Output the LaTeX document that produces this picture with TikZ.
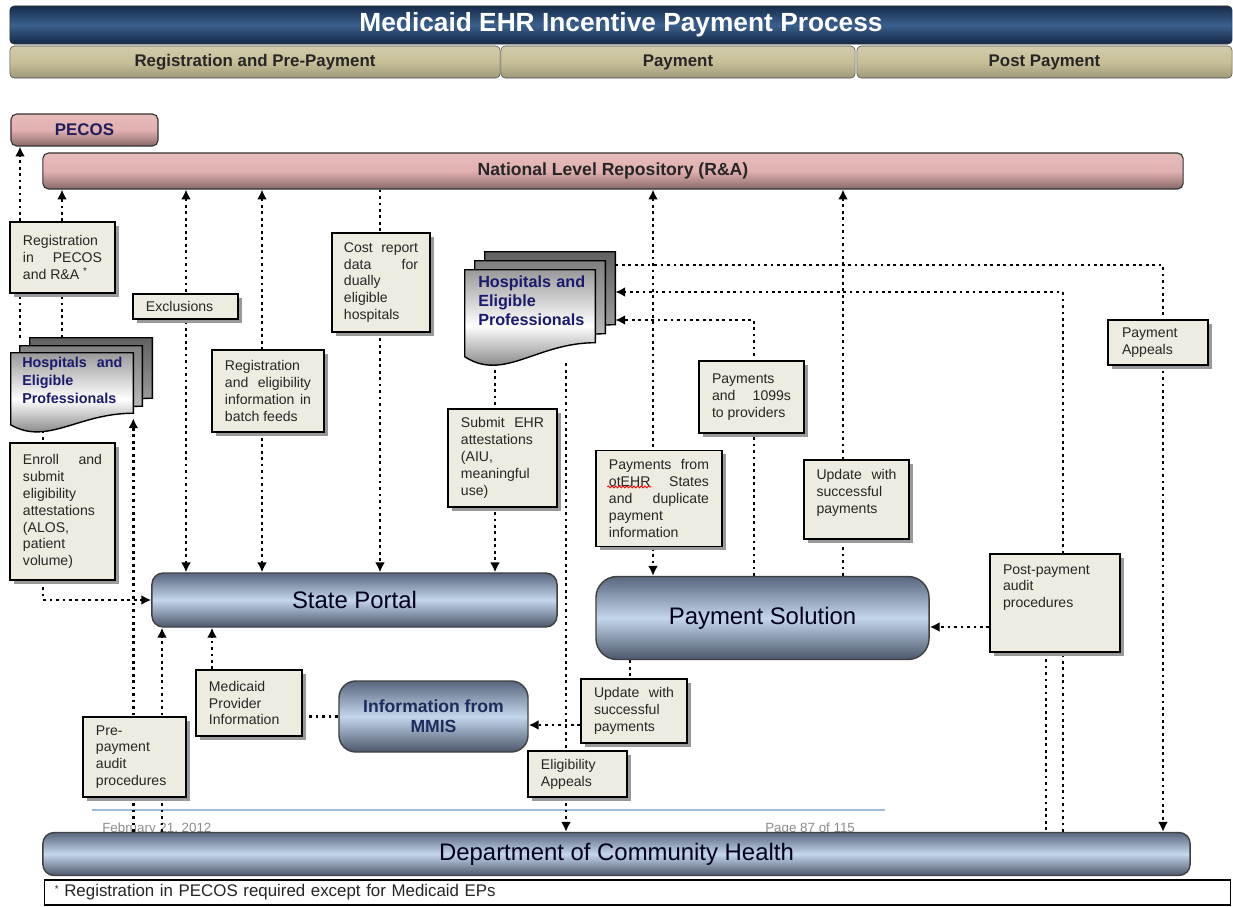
\documentclass[tikz,border=0pt]{standalone}
\usepackage{fontspec}
\setmainfont{Liberation Sans}
\usepackage{xcolor}
\usepackage{tikz}
\usetikzlibrary{arrows.meta, calc, shadows, positioning, decorations.pathmorphing}
\pgfdeclarelayer{background}
\pgfdeclarelayer{pages}
\pgfsetlayers{background,pages,main}
\definecolor{titletop}{RGB}{22,44,75}
\definecolor{titlemid}{RGB}{58,96,142}
\definecolor{phasetan}{RGB}{198,191,152}
\definecolor{nlrpink}{RGB}{226,176,176}
\definecolor{notefill}{RGB}{238,235,224}
\definecolor{boxdark}{RGB}{88,102,126}
\definecolor{boxlight}{RGB}{196,214,236}
\definecolor{hospnavy}{RGB}{26,26,110}
\definecolor{footline}{RGB}{160,188,220}
\newcommand{\notefont}{\fontsize{10}{12}\selectfont}
% page with a wavy lower edge, drawn round an empty node
\newcommand{\docpage}[2]{%
  \begin{pgfonlayer}{pages}
    \draw[#2] let \p1=(#1.north west), \p2=(#1.south east),
      \n1={\x2-\x1}, \n2={\y1-\y2} in
      (\x1,\y1) -- (\x2,\y1) -- (\x2,{\y2+0.22*\n2})
      .. controls ({\x2-0.45*\n1},{\y2+0.22*\n2}) and ({\x1+0.3*\n1},{\y2-0.2*\n2})
      .. (\x1,{\y2+0.07*\n2}) -- cycle;
  \end{pgfonlayer}}
\tikzset{
  >={Latex[length=7pt,width=7pt]},
  % connectors
  flow/.style={line width=2pt, dash pattern=on 2pt off 2.6pt},
  % boxes
  titlebar/.style={draw=black!80, rounded corners=3pt, minimum width=30.55cm, minimum height=0.95cm,
    top color=titletop, bottom color=titletop!90!black, middle color=titlemid,
    text=white, font=\bfseries\fontsize{18.7}{20}\selectfont},
  phase/.style={draw=black!70, rounded corners=3pt, minimum height=0.8cm,
    top color=phasetan!80!white, bottom color=phasetan!80!black, middle color=phasetan,
    text=black!85, font=\bfseries\fontsize{12}{14}\selectfont},
  repo/.style={draw=black!80, line width=0.8pt, rounded corners=4pt,
    top color=nlrpink!85!white, bottom color=nlrpink!60!black, middle color=nlrpink},
  proc/.style={draw=black!75, line width=1pt,
    top color=boxdark, bottom color=boxdark!85!black, middle color=boxlight,
    text=black!90!blue},
  note/.style={draw=black, line width=1pt, fill=notefill, inner sep=0pt, align=justify,
    font=\notefont, text=black!85,
    drop shadow={shadow xshift=0.09cm, shadow yshift=-0.09cm, opacity=1, fill=black!40}},
  pagebox/.style={inner sep=0pt},
  pagefront/.style={draw=black, line width=1pt, top color=black!40, bottom color=black!65, middle color=white},
  pagemid/.style={draw=black, line width=1pt, top color=black!50, bottom color=black!15},
  pageback/.style={draw=black, line width=1pt, top color=black!62, bottom color=black!28},
  hosptext/.style={inner sep=0pt, text=hospnavy},
  pagefoot/.style={inner sep=0pt, text=black!45, font=\fontsize{9.5}{11}\selectfont},
  spellwave/.style={red, line width=0.6pt, decorate, decoration={snake, amplitude=0.7pt, segment length=2.6pt}}
}
\begin{document}
\begin{tikzpicture}[x=0.025cm, y=-0.025cm]
\useasboundingbox (0,0) rectangle (1233,906);

% header
\node[titlebar] (title) at (621,25) {Medicaid EHR Incentive Payment Process};
\node[phase, minimum width=12.25cm] (phreg) at (255,62) {Registration and Pre-Payment};
\node[phase, minimum width=8.85cm] (phpay) at (678,62) {Payment};
\node[phase, minimum width=9.375cm] (phpost) at (1044.5,62) {Post Payment};

% national level
\node[repo, minimum width=3.675cm, minimum height=0.8cm, text={rgb,255:red,30;green,30;blue,90},
  font=\bfseries\fontsize{12}{14}\selectfont] (pecos) at (84.5,130) {PECOS};
\node[repo, minimum width=28.5cm, minimum height=0.9cm, text=black!85,
  font=\bfseries\fontsize{12.5}{14}\selectfont] (nlr) at (613,171) {National Level Repository (R\&A)};

% document stacks
\node[pagebox, minimum width=3.05cm, minimum height=1.925cm] (hospLc) at (91,376.5) {};
\node[pagebox, minimum width=3.05cm, minimum height=1.925cm] (hospLb) at (81,384.5) {};
\node[pagebox, minimum width=3.05cm, minimum height=1.925cm] (hospL) at (72,391.5) {};
\docpage{hospLc}{pageback}
\docpage{hospLb}{pagemid}
\docpage{hospL}{pagefront}
\node[hosptext, text width=2.5cm, align=justify, anchor=west,
  font=\bfseries\fontsize{10.2}{12.8}\selectfont] (hospLtext) at (22,380)
  {Hospitals and\linebreak Eligible\linebreak Professionals};

\node[pagebox, minimum width=3.25cm, minimum height=2.325cm] (hospMc) at (550,298.5) {};
\node[pagebox, minimum width=3.25cm, minimum height=2.325cm] (hospMb) at (540,307.5) {};
\node[pagebox, minimum width=3.25cm, minimum height=2.325cm] (hospM) at (530,316.5) {};
\docpage{hospMc}{pageback}
\docpage{hospMb}{pagemid}
\docpage{hospM}{pagefront}
\node[hosptext, text width=2.8cm, align=left, anchor=west,
  font=\bfseries\fontsize{11.5}{13.5}\selectfont] (hospMtext) at (478,301)
  {Hospitals and\\ Eligible\\ Professionals};

% registration and pre-payment notes
\node[note, minimum width=2.625cm, minimum height=1.775cm, text width=1.975cm] (reg) at (62.5,257.5)
  {Registration\linebreak in PECOS\linebreak and R\&A \textsuperscript{*}};
\node[note, minimum width=2.625cm, minimum height=3.425cm, text width=1.975cm] (enroll) at (62.5,511.5)
  {Enroll and\linebreak submit\linebreak eligibility\linebreak attestations\linebreak (ALOS,\linebreak patient\linebreak volume)};
\node[note, minimum width=2.625cm, minimum height=0.625cm, text width=1.975cm] (excl) at (185.5,306.5)
  {Exclusions};
\node[note, minimum width=2.8cm, minimum height=2.05cm, text width=2.15cm] (batch) at (268,391)
  {Registration\linebreak and eligibility\linebreak information in\linebreak batch feeds};
\node[note, minimum width=2.45cm, minimum height=2.475cm, text width=1.85cm] (cost) at (381,282.5)
  {Cost report\linebreak data for\linebreak dually\linebreak eligible\linebreak hospitals};
\node[note, minimum width=2.725cm, minimum height=2.45cm, text width=2.075cm] (submit) at (502.5,458)
  {Submit EHR\linebreak attestations\linebreak (AIU,\linebreak meaningful\linebreak use)};
\node[note, minimum width=2.65cm, minimum height=1.65cm, text width=2.0cm] (provinfo) at (249,703)
  {Medicaid\linebreak Provider\linebreak Information};
\node[note, minimum width=2.575cm, minimum height=2.0cm, text width=1.925cm] (preaudit) at (134.5,757)
  {Pre-\linebreak payment\linebreak audit\linebreak procedures};
\node[note, minimum width=2.475cm, minimum height=1.15cm, text width=1.825cm] (eligappeal) at (577.5,774)
  {Eligibility\linebreak Appeals};

% payment notes
\node[note, minimum width=3.15cm, minimum height=2.4cm, text width=2.5cm] (payother) at (659,498.5)
  {Payments from\linebreak otEHR States\linebreak and duplicate\linebreak payment\linebreak information};
\draw[spellwave] ([xshift=0.3cm,yshift=0.29cm]payother.west) -- ++(44,0);
\node[note, minimum width=2.625cm, minimum height=1.8cm, text width=1.975cm] (pay1099) at (751.5,397)
  {Payments\linebreak and 1099s\linebreak to providers};
\node[note, minimum width=2.625cm, minimum height=1.975cm, text width=2.0cm] (updup) at (856.5,499.5)
  {Update with\linebreak successful\linebreak payments\par\mbox{}};
\node[note, minimum width=2.65cm, minimum height=1.6cm, text width=2.0cm] (updlow) at (634,711)
  {Update with\linebreak successful\linebreak payments};

% post payment notes
\node[note, minimum width=2.5cm, minimum height=1.125cm, text width=1.8cm] (payappeal) at (1158,342.5)
  {Payment\linebreak Appeals};
\node[note, minimum width=3.25cm, minimum height=2.45cm, text width=2.6cm] (postaudit) at (1055,603)
  {Post-payment\linebreak audit\linebreak procedures\par\mbox{}\par\mbox{}};

% systems
\node[proc, rounded corners=8pt, minimum width=10.125cm, minimum height=1.35cm,
  font=\fontsize{17}{20}\selectfont] (portal) at (354.5,600) {State Portal};
\node[proc, rounded corners=12pt, minimum width=4.725cm, minimum height=1.775cm, align=center,
  text={rgb,255:red,28;green,44;blue,92}, font=\bfseries\fontsize{12.5}{14}\selectfont] (mmis) at (433.5,716.5)
  {Information from\\ MMIS};
\node[proc, rounded corners=15pt, minimum width=8.325cm, minimum height=2.075cm,
  font=\fontsize{17}{20}\selectfont] (paysol) at (762.5,618) {Payment Solution};
\node[proc, rounded corners=8pt, minimum width=28.675cm, minimum height=1.075cm,
  font=\fontsize{17}{20}\selectfont] (dch) at (616.5,854) {Department of Community Health};

% footnote
\node[draw=black, line width=0.8pt, fill=white, minimum width=29.625cm, minimum height=0.625cm,
  inner xsep=0.25cm, inner ysep=0pt, text width=29.125cm, align=left, text=black!85,
  font=\fontsize{12}{14}\selectfont] (foot) at (637.5,892.5)
  {{\fontsize{7}{7}\selectfont\raisebox{3pt}{*}} Registration in PECOS required except for Medicaid EPs};

\begin{pgfonlayer}{background}
  % page footer behind the picture
  \draw[footline, line width=1pt] (92,810) -- (885,810);
  \node[pagefoot, anchor=base west] (fdate) at (102,832) {February 21, 2012};
  \node[pagefoot, anchor=base west] (fpage) at (765,832) {Page 87 of 115};
  % registration flows
  \draw[flow,->] (hospLc.north -| 20,0) -- (pecos.south -| 20,0);
  \draw[flow,->] (hospLc.north -| 62,0) -- (nlr.south -| 62,0);
  \draw[flow] (hospL.south -| 43,0) -- (enroll.north -| 43,0);
  \draw[flow,->] (enroll.south -| 43,0) |- (portal.west);
  \draw[flow,->] (dch.north -| hospL.east) -- ([yshift=0.3cm]hospL.south east);
  \draw[flow,->] (dch.north -| 162,0) -- (portal.south -| 162,0);
  \draw[flow,<->] (nlr.south -| 186,0) -- (portal.north -| 186,0);
  \draw[flow,<->] (nlr.south -| 262,0) -- (portal.north -| 262,0);
  \draw[flow,->] (nlr.south -| 380,0) -- (portal.north -| 380,0);
  \draw[flow,->] (hospM.south -| 495,0) -- (portal.north -| 495,0);
  \draw[flow,->] (hospM.south -| 566,0) -- (dch.north -| 566,0);
  \draw[flow,->] (provinfo.north -| 212,0) -- (portal.south -| 212,0);
  \draw[flow] (provinfo.east |- mmis.west) -- (mmis.west);
  \draw[flow,->] ([yshift=-0.35cm]updlow.west) -- ([yshift=-0.35cm]updlow.west -| mmis.east);
  % payment flows
  \draw[flow] (paysol.south -| 630,0) -- (updlow.north -| 630,0);
  \draw[flow,<->] (nlr.south -| 653,0) -- (paysol.north -| 653,0);
  \draw[flow,->] (paysol.north -| 754,0) |- (hospMc.east |- 0,320);
  \draw[flow,->] (paysol.north -| 843,0) -- (nlr.south -| 843,0);
  % post payment flows
  \draw[flow,->] (hospMc.east |- 0,265) -| (dch.north -| 1163,0);
  \draw[flow,->] (dch.north -| 1063,0) |- (hospMc.east |- 0,292);
  \draw[flow] (postaudit.south -| 1046,0) -- (dch.north -| 1046,0);
  \draw[flow,->] (postaudit.west |- 0,627) -- (paysol.east |- 0,627);
\end{pgfonlayer}
\end{tikzpicture}
\end{document}
